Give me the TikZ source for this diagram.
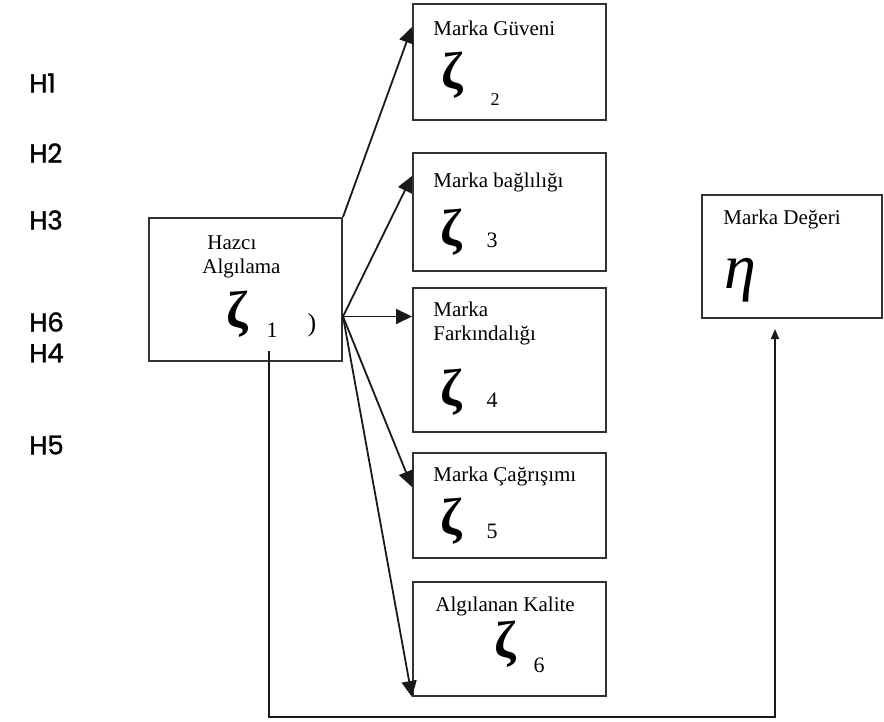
\documentclass[tikz,border=0pt]{standalone}
\usepackage{fontspec}
\setmainfont{Liberation Serif}
\newfontfamily\hypfont[FakeBold=1.2]{Poppins}
\usetikzlibrary{arrows.meta,calc}

\begin{document}
\begin{tikzpicture}[x=0.5pt,y=-0.5pt,
  box/.style={draw=black!80,line width=1pt,inner sep=0pt},
  lbl/.style={inner sep=0pt,anchor=west,font=\fontsize{10.5}{12}\selectfont},
  greek/.style={inner sep=0pt,font=\fontsize{26}{26}\selectfont\bfseries},
  idx/.style={inner sep=0pt,font=\fontsize{11}{11}\selectfont},
  hyp/.style={inner sep=0pt,anchor=west,font=\hypfont\fontsize{13}{13}\selectfont},
  arr/.style={line width=0.9pt,draw=black!90,-{Triangle[length=8pt,width=7.5pt]}}]

\useasboundingbox (0,0) rectangle (884,722);

% hypothesis labels
\node[hyp] (h1) at (29,83) {H1};
\node[hyp] (h2) at (29,153) {H2};
\node[hyp] (h3) at (29,220) {H3};
\node[hyp] (h6) at (29,322) {H6};
\node[hyp] (h4) at (29,353) {H4};
\node[hyp] (h5) at (29,445) {H5};

% construct boxes
\node[box,minimum width=96.5pt,minimum height=71.5pt] (hz) at (245.5,289.5) {};
\node[box,minimum width=96.5pt,minimum height=58pt]   (b2) at (509.5,62) {};
\node[box,minimum width=96.5pt,minimum height=59pt]   (b3) at (509.5,212) {};
\node[box,minimum width=96.5pt,minimum height=72pt]   (b4) at (509.5,360) {};
\node[box,minimum width=96.5pt,minimum height=52.5pt] (b5) at (509.5,505.5) {};
\node[box,minimum width=96.5pt,minimum height=57pt]   (b6) at (509.5,639) {};
\node[box,minimum width=90pt,minimum height=61.5pt]   (me) at (792,256.5) {};

% box texts
\node[lbl] (hzt1) at (207,243) {Hazcı};
\node[lbl] (hzt2) at (202,268) {Algılama};
\node[greek] (hzz) at (237,314) {ζ};
\node[idx] (hzi) at (272,330) {1};
\node[inner sep=0pt,font=\fontsize{13}{13}\selectfont] (hzp) at (312,325) {)};

\node[lbl] (b2t) at (433,28) {Marka Güveni};
\node[greek] (b2z) at (452,75) {ζ};
\node[idx,font=\fontsize{9}{9}\selectfont] (b2i) at (495,100) {2};

\node[lbl] (b3t) at (433,182) {Marka bağlılığı};
\node[greek] (b3z) at (451,232) {ζ};
\node[idx] (b3i) at (492,240) {3};

\node[lbl] (b4t1) at (433,309) {Marka};
\node[lbl] (b4t2) at (433,335) {Farkındalığı};
\node[greek] (b4z) at (451,392) {ζ};
\node[idx] (b4i) at (492,400) {4};

\node[lbl] (b5t) at (433,476) {Marka Çağrışımı};
\node[greek] (b5z) at (451,521) {ζ};
\node[idx] (b5i) at (492,531) {5};

\node[lbl] (b6t) at (435,606) {Algılanan Kalite};
\node[greek] (b6z) at (505,644) {ζ};
\node[idx] (b6i) at (539,665) {6};

\node[lbl] (met) at (723,219) {Marka Değeri};
\node[inner sep=0pt,font=\fontsize{32}{32}\selectfont\itshape] (mez) at (740,280) {η};

% connectors
\coordinate (hzout) at ($(hz.east)+(0,27)$);
\draw[arr] (hz.north east) -- ($(b2.north west)+(0,24)$);
\draw[arr] (hzout) -- ($(b3.north west)+(0,24)$);
\draw[arr] (hzout) -- (hzout -| b4.west);
\draw[arr] (hzout) -- ($(b5.north west)+(0,35)$);
\draw[arr] (hzout) -- (b6.south west);

% feedback path to brand value
\coordinate (fbstart) at ($(hz.south)+(23.5,-11)$);
\coordinate (fbend) at ($(me.south)+(-17,10)$);
\coordinate (fbbot) at ($(fbend |- 0,717)$);
\draw[line width=0.9pt,draw=black!90,-{Triangle[length=5pt,width=4pt]}] (fbstart) |- (fbbot) -- (fbend);
\end{tikzpicture}
\end{document}
